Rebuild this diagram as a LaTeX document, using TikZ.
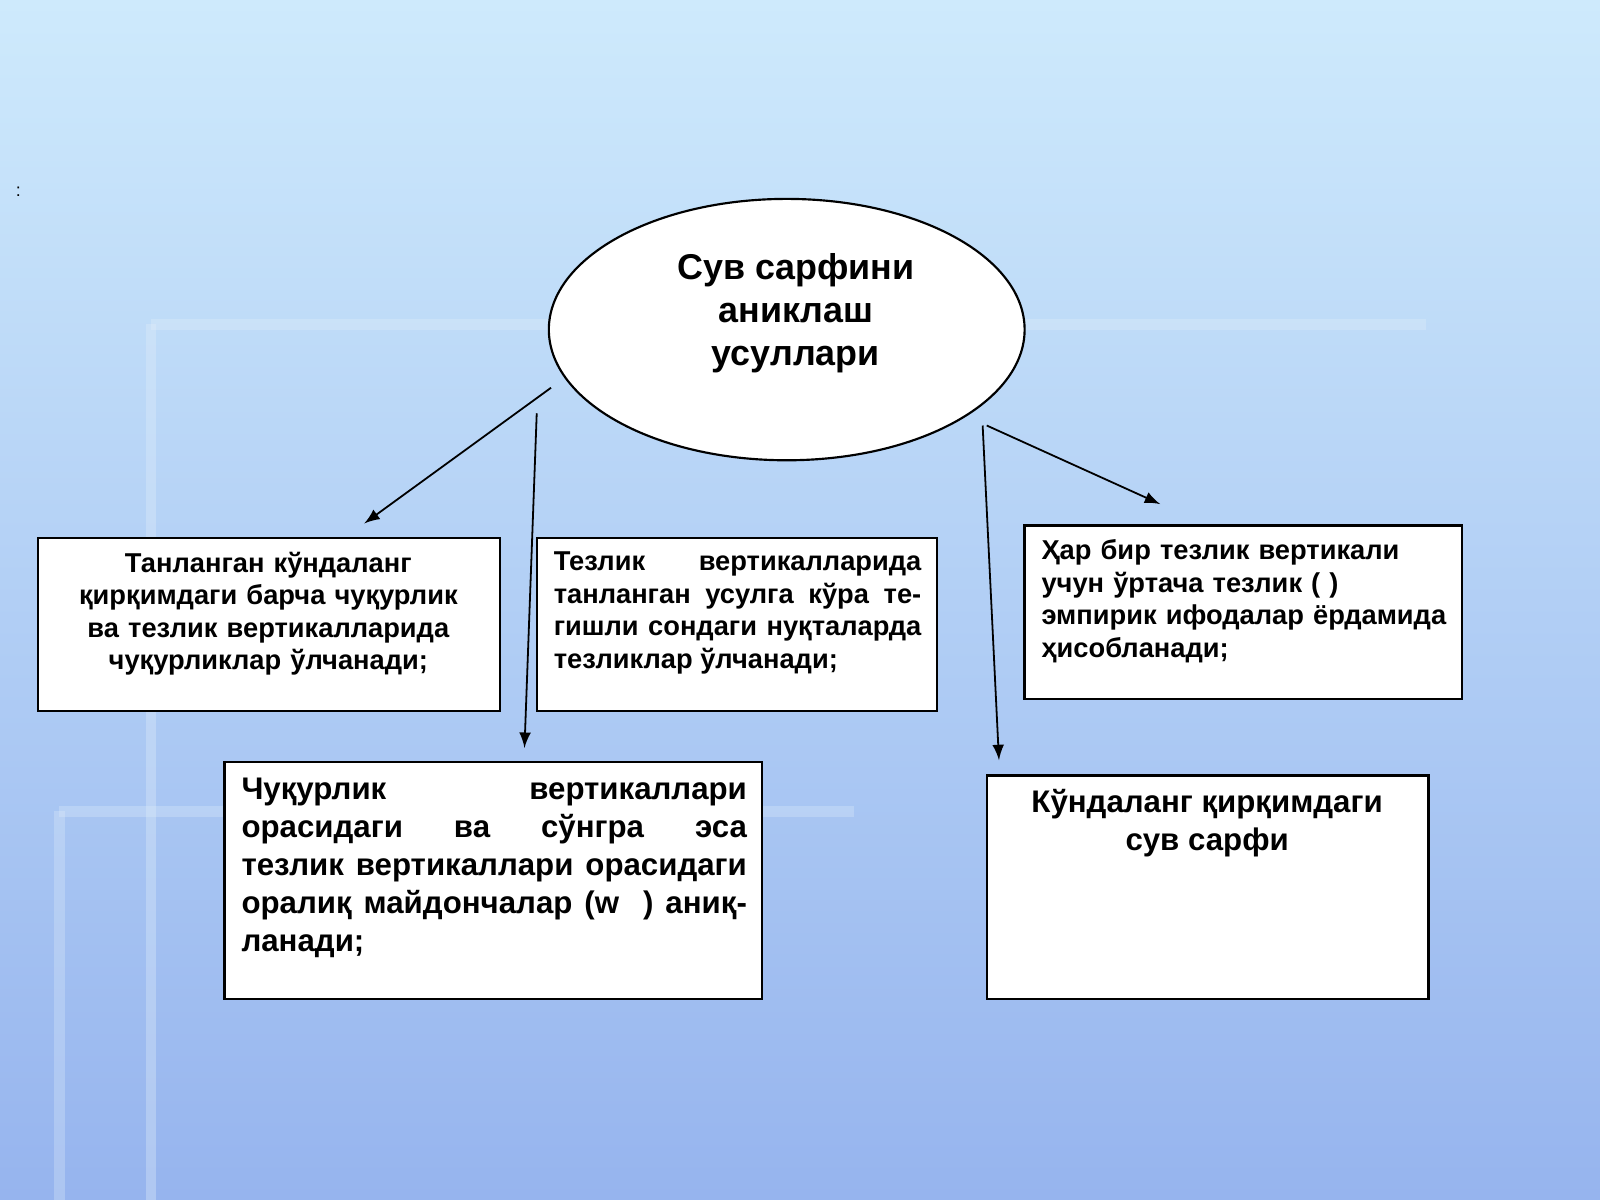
\documentclass[tikz,border=0pt]{standalone}
\usepackage{fontspec}
\setmainfont{Liberation Sans}
\usetikzlibrary{arrows,shapes.geometric}
\definecolor{skytop}{RGB}{206, 234, 252}
\definecolor{skybot}{RGB}{150, 180, 238}
\definecolor{pale}{RGB}{225, 238, 250}

\tikzset{
  box/.style={draw=black, fill=white, line width=0.6pt, inner sep=0pt},
  txt/.style={font=\bfseries\fontsize{7.6}{9.1}\selectfont, inner sep=0pt},
  link/.style={-latex, line width=0.5pt}
}

\begin{document}
\begin{tikzpicture}[x=0.01cm, y=-0.01cm]
            % Background
            \useasboundingbox (0,0) rectangle (1568,1176);
            \shade[top color=skytop, bottom color=skybot] (0,0) rectangle (1568,1176);
            \draw[pale, line width=3pt, opacity=0.35] (148,318) -- (1397,318);
            \draw[pale, line width=3pt, opacity=0.35] (148,318) -- (148,1176);
            \draw[pale, line width=3pt, opacity=0.3] (58,795) -- (837,795);
            \draw[pale, line width=3pt, opacity=0.3] (58,795) -- (58,1176);
            \node[font=\tiny] (dot) at (18,188) {:};
            % Ellipse
            \node[ellipse, draw=black, fill=white, line width=0.6pt, inner sep=0pt,
                  minimum width=4.66cm, minimum height=2.56cm] (root) at (771,323) {};
            \node[font=\bfseries\fontsize{10}{11.9}\selectfont, align=center] (roottxt) at (780,307)
                 {Сув сарфини\\аниклаш\\усуллари};
            % Boxes
            \draw[box] (37,527) rectangle (490,697);
            \node[txt, text width=4.45cm, align=center, anchor=north] (depth) at (263,540)
                 {Танланган кўндаланг қирқимдаги барча чуқурлик ва тезлик вертикалларида чуқурликлар ўлчанади;};
            \draw[box] (526,527) rectangle (918,697);
            \node[txt, text width=3.6cm, align=justify, anchor=north west] (speed) at (542,540)
                 {Тезлик вертикалларида танланган усулга кўра те-гишли сондаги нуқталарда тезликлар ўлчанади;};
            \draw[box] (1004,515) rectangle (1433,685);
            \node[txt, text width=4.1cm, align=left, anchor=north west] (mean) at (1020,528)
                 {Ҳар бир тезлик вертикали учун ўртача тезлик (~) эмпирик ифодалар ёрдамида ҳисобланади;};
            \draw[box] (220,747) rectangle (747,979);
            \node[txt, font=\bfseries\fontsize{8.7}{10.6}\selectfont, text width=4.95cm, align=justify, anchor=north west] (area) at (236,762)
                 {Чуқурлик вертикаллари орасидаги ва сўнгра эса тезлик вертикаллари орасидаги оралиқ майдончалар (w~~) аниқ-\linebreak ланади;};
            \draw[box] (967,760) rectangle (1400,979);
            \node[txt, font=\bfseries\fontsize{8.7}{10.6}\selectfont, align=center, anchor=north] (flow) at (1183,773)
                 {Кўндаланг қирқимдаги\\сув сарфи};
            % Arrows
            \coordinate (s1) at (540,380); \coordinate (e1) at (357,513);
            \coordinate (s2) at (526,405); \coordinate (e2) at (514,733);
            \coordinate (s3) at (963,417); \coordinate (e3) at (979,745);
            \coordinate (s4) at (967,417); \coordinate (e4) at (1137,494);
            \draw[link] (s1) -- (e1);
            \draw[link] (s2) -- (e2);
            \draw[link] (s3) -- (e3);
            \draw[link] (s4) -- (e4);
\end{tikzpicture}
\end{document}
